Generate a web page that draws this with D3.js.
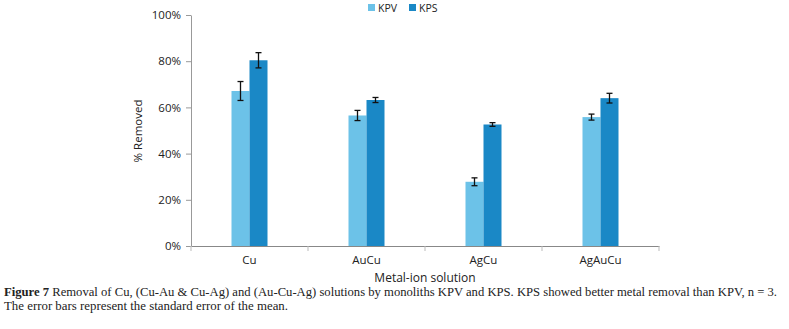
<!DOCTYPE html>
<html lang="en">
<head>
<meta charset="UTF-8">
<title>Figure 7</title>
<script src="https://cdn.jsdelivr.net/npm/d3@7"></script>
<style>
    body { margin: 0; background: #fff; }
    svg { display: block; }
    .tick text { font-family: 'Open Sans', 'Liberation Sans', sans-serif; font-size: 11.5px; fill: #222; }
    .caption { font-family: 'Liberation Serif', 'DejaVu Serif', serif; font-size: 11.5px; fill: #222; }
</style>
</head>
<body>
<div id="chart"></div>
<script>
    const categories = ["Cu", "AuCu", "AgCu", "AgAuCu"];
    const seriesNames = ["KPV", "KPS"];
    const kpv = [67.1, 56.5, 27.8, 55.8];
    const kps = [80.4, 63.2, 52.6, 64.0];
    const kpvErr = [4.1, 2.2, 1.7, 1.3];
    const kpsErr = [3.3, 1.1, 0.8, 2.1];
    const yTicks = [0, 20, 40, 60, 80, 100];
    const colors = ["#6cc2e8", "#1a88c6"];

    const W = 789, H = 329;
    const margin = { top: 15, left: 191, right: 130, bottom: 83 };
    const width = W - margin.left - margin.right;
    const height = H - margin.top - margin.bottom;

    const svg = d3.select("#chart").append("svg")
        .attr("width", W).attr("height", H);
    const g = svg.append("g").attr("transform", `translate(${margin.left},${margin.top})`);

    const x = d3.scaleBand().domain(categories).range([0, width]);
    const xs = d3.scaleBand().domain(seriesNames).range([0, 36]);
    const y = d3.scaleLinear().domain([0, 100]).range([height, 0]);

    const data = categories.map((c, i) => ({
        cat: c,
        vals: [
            { s: "KPV", v: kpv[i], e: kpvErr[i] },
            { s: "KPS", v: kps[i], e: kpsErr[i] }
        ]
    }));

    // y axis
    const yAxis = g.append("g")
        .call(d3.axisLeft(y).tickValues(yTicks).tickFormat(d => d + "%").tickSize(5).tickSizeOuter(0));
    yAxis.select(".domain").attr("stroke", "#999");
    yAxis.selectAll(".tick line").attr("stroke", "#999");
    yAxis.selectAll(".tick text").attr("x", -10);

    // bars
    const groups = g.selectAll(".grp").data(data).enter().append("g")
        .attr("transform", d => `translate(${x(d.cat) + x.bandwidth() / 2 - 18},0)`);
    groups.selectAll("rect").data(d => d.vals).enter().append("rect")
        .attr("x", d => xs(d.s))
        .attr("width", xs.bandwidth())
        .attr("y", d => y(d.v))
        .attr("height", d => height - y(d.v))
        .attr("fill", (d, i) => colors[i]);

    // error bars
    const eb = groups.selectAll(".err").data(d => d.vals).enter().append("g")
        .attr("stroke", "#111").attr("stroke-width", 1.3);
    eb.append("line")
        .attr("x1", d => xs(d.s) + xs.bandwidth() / 2).attr("x2", d => xs(d.s) + xs.bandwidth() / 2)
        .attr("y1", d => y(d.v + d.e)).attr("y2", d => y(d.v - d.e));
    eb.append("line")
        .attr("x1", d => xs(d.s) + xs.bandwidth() / 2 - 3).attr("x2", d => xs(d.s) + xs.bandwidth() / 2 + 3)
        .attr("y1", d => y(d.v + d.e)).attr("y2", d => y(d.v + d.e));
    eb.append("line")
        .attr("x1", d => xs(d.s) + xs.bandwidth() / 2 - 3).attr("x2", d => xs(d.s) + xs.bandwidth() / 2 + 3)
        .attr("y1", d => y(d.v - d.e)).attr("y2", d => y(d.v - d.e));

    // x axis
    const xAxis = g.append("g").attr("transform", `translate(0,${height})`)
        .call(d3.axisBottom(x).tickSize(0).tickPadding(10));
    xAxis.select(".domain").attr("stroke", "#888");
    const bounds = d3.range(categories.length + 1).map(i => i * x.step());
    xAxis.selectAll(".sep").data(bounds).enter().append("line")
        .attr("x1", d => d).attr("x2", d => d).attr("y1", 0).attr("y2", 5)
        .attr("stroke", "#bbb");

    // axis titles
    svg.append("text")
        .attr("x", margin.left + width / 2).attr("y", 282)
        .attr("text-anchor", "middle")
        .style("font-family", "'Open Sans', 'Liberation Sans', sans-serif")
        .style("font-size", "12px").attr("fill", "#222")
        .text("Metal-ion solution");
    svg.append("text")
        .attr("transform", "translate(142,131) rotate(-90)")
        .attr("text-anchor", "middle")
        .style("font-family", "'Open Sans', 'Liberation Sans', sans-serif")
        .style("font-size", "11.5px").attr("fill", "#222")
        .text("% Removed");

    // legend
    const leg = svg.append("g").attr("transform", "translate(368,3)");
    seriesNames.forEach((s, i) => {
        const lg = leg.append("g").attr("transform", `translate(${i * 41},0)`);
        lg.append("rect").attr("width", 7).attr("height", 7).attr("y", 1).attr("fill", colors[i]);
        lg.append("text").attr("x", 10).attr("y", 8.5)
            .style("font-family", "'Open Sans', 'Liberation Sans', sans-serif")
            .style("font-size", "10.5px").attr("fill", "#222").text(s);
    });

    // caption
    const cap1 = svg.append("text").attr("class", "caption")
        .attr("x", 4).attr("y", 296).attr("textLength", 773).attr("lengthAdjust", "spacingAndGlyphs");
    cap1.append("tspan").attr("font-weight", "bold").text("Figure 7");
    cap1.append("tspan").text(" Removal of Cu, (Cu-Au & Cu-Ag) and (Au-Cu-Ag) solutions by monoliths KPV and KPS. KPS showed better metal removal than KPV, n = 3.");
    svg.append("text").attr("class", "caption")
        .attr("x", 4).attr("y", 310).attr("textLength", 284).attr("lengthAdjust", "spacingAndGlyphs")
        .text("The error bars represent the standard error of the mean.");
</script>
</body>
</html>
